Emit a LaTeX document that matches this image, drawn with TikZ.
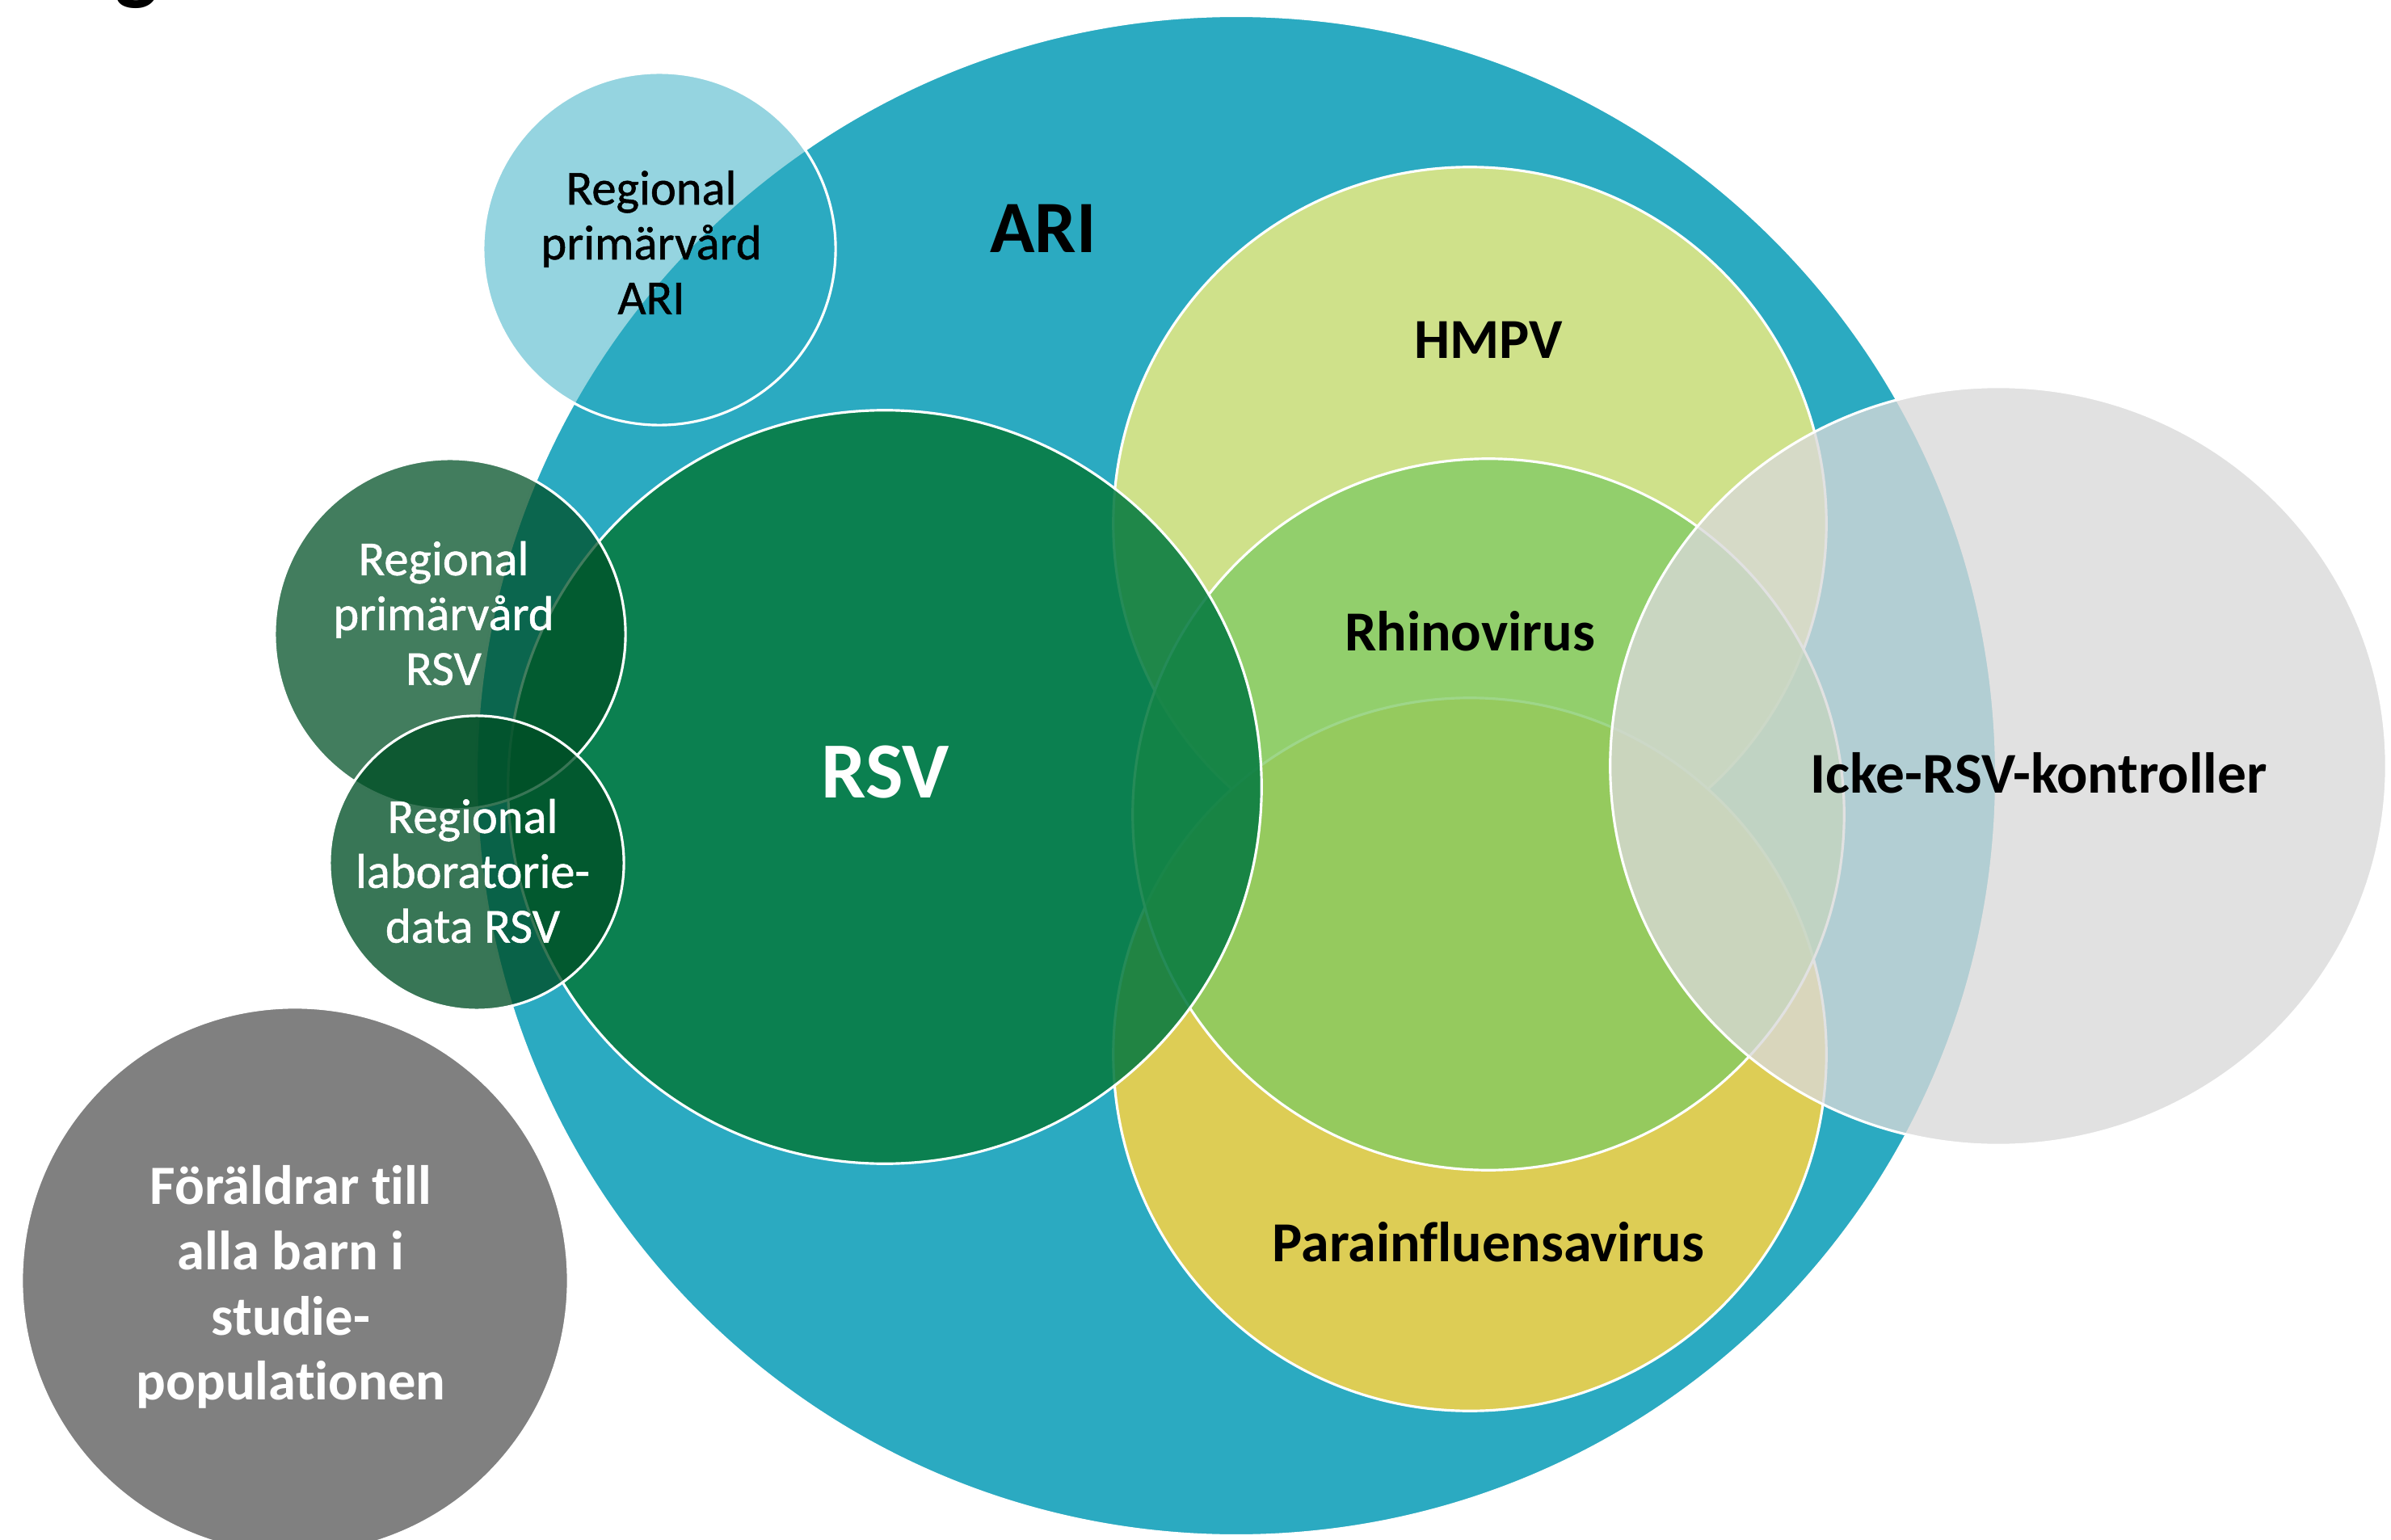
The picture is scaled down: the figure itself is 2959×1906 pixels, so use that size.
\documentclass[tikz,border=0pt]{standalone}
\usepackage{fontspec}
\setmainfont{Carlito}[Ligatures=NoCommon]
\newfontfamily\semibfont{Carlito}[Ligatures=NoCommon, FakeBold=0.9]
\usetikzlibrary{shapes.geometric}
\definecolor{ariC}{RGB}{43,170,193}
\definecolor{hmpvC}{RGB}{207,225,138}
\definecolor{paraC}{RGB}{221,205,85}
\definecolor{rhinoC}{RGB}{126,201,98}
\definecolor{rsvC}{RGB}{7,123,65}
\definecolor{dkgreenC}{RGB}{0,79,38}
\definecolor{ickeC}{RGB}{217,217,217}
\definecolor{grayC}{RGB}{128,128,128}
\begin{document}
\begin{tikzpicture}[x=0.01cm,y=-0.01cm,
  blob/.style={circle, inner sep=0pt, outer sep=0pt, draw=white, line width=0.9pt},
  lbl/.style={align=center, inner sep=0pt},
  smalltxt/.style={lbl, font=\semibfont\fontsize{17.2}{19.3}\selectfont},
  bigtxt/.style={lbl, font=\bfseries\fontsize{19.9}{23}\selectfont},
]
\useasboundingbox (0,0) rectangle (2959,1906);
\clip (0,0) rectangle (2959,1906);
% title fragment
\node[lbl, anchor=base, font=\bfseries\fontsize{32}{38}\selectfont] (gfrag) at (169,-8) {g};
% circles
\node[blob, fill=ariC, minimum size=18.80cm] (ari) at (1530,960) {};
\node[blob, fill=ariC, fill opacity=0.5, minimum size=4.36cm] (rpaari) at (816,308) {};
\node[blob, fill=hmpvC, minimum size=8.82cm] (hmpv) at (1819,648) {};
\node[blob, fill=paraC, minimum size=8.82cm] (para) at (1819,1305) {};
\node[blob, fill=rhinoC, fill opacity=0.75, minimum size=8.80cm] (rhino) at (1842,1008) {};
\node[blob, fill=rsvC, fill opacity=0.88, minimum size=9.32cm] (rsv) at (1095,974) {};
\node[blob, fill=dkgreenC, fill opacity=0.74, minimum size=4.34cm] (rparsv) at (557,785) {};
\node[blob, fill=dkgreenC, fill opacity=0.78, minimum size=3.64cm] (lab) at (590,1068) {};
\node[ellipse, inner sep=0pt, outer sep=0pt, draw=white, line width=0.9pt, fill=ickeC, fill opacity=0.78, minimum width=9.60cm, minimum height=9.38cm] (icke) at (2473,948) {};
\node[blob, fill=grayC, minimum size=6.76cm] (par) at (365,1585) {};
% labels
\node[smalltxt] (trpaari) at (806,300) {Regional\\primärvård\\ARI};
\node[smalltxt, text=white] (trparsv) at (549,759) {Regional\\primärvård\\RSV};
\node[smalltxt, text=white] (tlab) at (585,1078) {Regional\\laboratorie-\\data RSV};
\node[lbl, text=white, font=\bfseries\fontsize{19.5}{23}\selectfont] (tpar) at (360,1593) {Föräldrar till\\alla barn i\\studie-\\populationen};
\node[lbl, font=\bfseries\fontsize{26}{31}\selectfont] (tari) at (1291,283) {ARI};
\node[bigtxt] (thmpv) at (1842,421) {HMPV};
\node[bigtxt] (trhino) at (1819,781) {Rhinovirus};
\node[bigtxt] (tpara) at (1842,1537) {Parainfluensavirus};
\node[bigtxt, font=\bfseries\fontsize{20.3}{23}\selectfont] (ticke) at (2523,957) {Icke-RSV-kontroller};
\node[lbl, text=white, font=\bfseries\fontsize{28}{33}\selectfont] (trsv) at (1096,956) {RSV};
\end{tikzpicture}
\end{document}
